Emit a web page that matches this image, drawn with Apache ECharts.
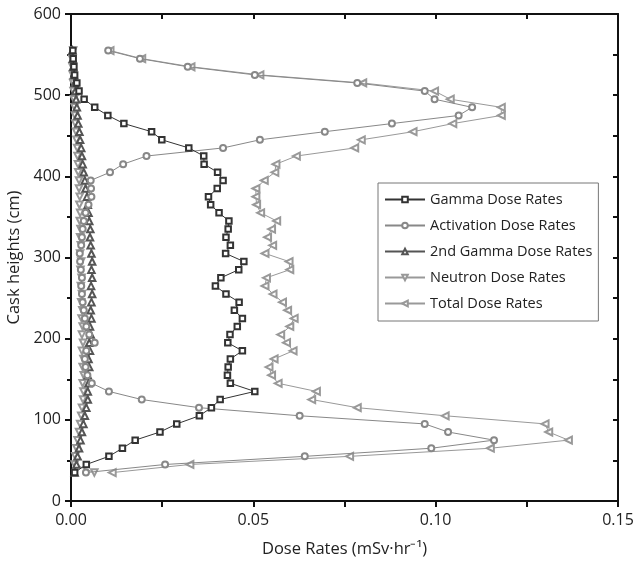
<html>
<head>
<meta charset="utf-8">
<script src="https://cdn.jsdelivr.net/npm/echarts@6/dist/echarts.min.js"></script>
<style>
	body { margin:0; background:#fff; }
	#main { width:633px; height:568px; }
</style>
</head>
<body>
<div id="main"></div>
<script>
	// cask heights, 35 .. 555 cm
	var heights = [35,45,55,65,75,85,95,105,115,125,135,145,155,165,175,185,195,205,215,225,235,245,255,265,275,285,295,305,315,325,335,345,355,365,375,385,395,405,415,425,435,445,455,465,475,485,495,505,515,525,535,545,555];

	var gamma = [0.001,0.0042,0.0104,0.0141,0.0176,0.0244,0.029,0.0352,0.0385,0.0409,0.0504,0.0437,0.0429,0.0431,0.0437,0.047,0.043,0.0436,0.0456,0.047,0.0448,0.0461,0.0425,0.0396,0.0411,0.046,0.0474,0.0424,0.0437,0.0425,0.0431,0.0433,0.0406,0.0383,0.0377,0.0401,0.0417,0.0402,0.0365,0.0364,0.0323,0.0249,0.0221,0.0145,0.0101,0.0065,0.0036,0.0022,0.0016,0.001,0.0008,0.0006,0.0005];

	var activation = [0.0041,0.0258,0.0641,0.0988,0.116,0.1034,0.097,0.0627,0.0351,0.0194,0.0104,0.0057,0.0045,0.004,0.0038,0.0042,0.0065,0.005,0.0042,0.0038,0.0035,0.0032,0.003,0.0028,0.003,0.0027,0.0025,0.0024,0.0028,0.003,0.0032,0.0035,0.004,0.0048,0.0056,0.0055,0.0054,0.0107,0.0143,0.0207,0.0417,0.0518,0.0696,0.088,0.1063,0.11,0.0997,0.097,0.0785,0.0504,0.032,0.0189,0.0102];

	var gamma2 = [0.001,0.0015,0.0018,0.0022,0.0026,0.003,0.0034,0.0038,0.0042,0.0046,0.0046,0.0048,0.0046,0.005,0.0048,0.0052,0.005,0.0054,0.0052,0.0056,0.0054,0.0056,0.0058,0.0055,0.0058,0.0056,0.0058,0.0056,0.0054,0.0052,0.0053,0.005,0.0048,0.0046,0.0044,0.004,0.0038,0.0035,0.0032,0.003,0.0028,0.0025,0.0023,0.002,0.0018,0.0016,0.0014,0.0012,0.001,0.0008,0.0006,0.0005,0.0004];

	var neutron = [0.0064,0.001,0.0012,0.0015,0.0018,0.0022,0.0025,0.0028,0.003,0.0033,0.0034,0.0032,0.0035,0.0032,0.0034,0.003,0.0033,0.003,0.0032,0.0029,0.0031,0.0028,0.003,0.0027,0.0029,0.0026,0.0028,0.0025,0.0027,0.0025,0.0026,0.0024,0.0025,0.0023,0.0024,0.0022,0.0022,0.002,0.0019,0.0018,0.0017,0.0015,0.0014,0.0012,0.0011,0.001,0.0008,0.0007,0.0006,0.0005,0.0004,0.0003,0.0006];

	var total = [0.0113,0.0326,0.0764,0.115,0.1364,0.131,0.13,0.1026,0.0785,0.066,0.0673,0.0568,0.055,0.0543,0.0557,0.0609,0.0591,0.0575,0.06,0.0612,0.0594,0.058,0.0554,0.0532,0.0536,0.06,0.0598,0.0532,0.0553,0.0539,0.055,0.0564,0.052,0.0509,0.0507,0.0507,0.053,0.0559,0.0562,0.0618,0.0778,0.0796,0.0938,0.1047,0.118,0.118,0.104,0.0997,0.08,0.0518,0.0329,0.0194,0.0107];

	var names = ['Gamma Dose Rates','Activation Dose Rates','2nd Gamma Dose Rates','Neutron Dose Rates','Total Dose Rates'];

	function pairs(xs) {
		var out = [];
		for (var i = 0; i < xs.length; i++) {
			out.push([xs[i], heights[i]]);
		}
		return out;
	}

	function mk(name, vals, symbol, size, rot, color, z) {
		return {
			name: name,
			type: 'line',
			data: pairs(vals),
			symbol: symbol,
			symbolSize: size,
			symbolRotate: rot,
			z: z,
			lineStyle: { color: color, width: 1 },
			itemStyle: { color: color, borderColor: color, borderWidth: 1 },
			emphasis: { disabled: true },
			animation: false
		};
	}

	// frame axes: bottom/left carry labels, top/right only inner ticks
	function frameLine() {
		return { show: true, onZero: false, lineStyle: { color: '#111', width: 2 } };
	}

	var font = 'Open Sans';
	var myChart = echarts.init(document.getElementById('main'));
	var option = {
		backgroundColor: '#fff',
		animation: false,
		grid: { left: 71, right: 15, top: 14, bottom: 67, outerBoundsMode: 'none' },
		legend: {
			orient: 'vertical',
			left: 378,
			top: 183,
			padding: [9, 6, 10, 6],
			itemGap: 11,
			itemWidth: 40,
			itemHeight: 7,
			borderColor: '#777',
			borderWidth: 1,
			textStyle: { fontFamily: font, fontSize: 14.5, color: '#222' },
			data: names
		},
		xAxis: [{
			type: 'value',
			min: 0, max: 0.15, interval: 0.05,
			name: 'Dose Rates (mSv·hr⁻¹)',
			nameLocation: 'middle',
			nameGap: 40,
			nameTextStyle: { fontFamily: font, fontSize: 16.5, color: '#222' },
			axisLine: frameLine(),
			axisTick: { show: true, length: 6, lineStyle: { color: '#111', width: 2 } },
			minorTick: { show: true, splitNumber: 2, length: 6, lineStyle: { color: '#111', width: 2 } },
			splitLine: { show: false },
			axisLabel: { fontFamily: font, fontSize: 16, color: '#222', margin: 11, formatter: function (v) { return v.toFixed(2); } }
		}, {
			type: 'value', position: 'top',
			min: 0, max: 0.15, interval: 0.025,
			axisLine: frameLine(),
			axisTick: { show: true, inside: true, length: 5, lineStyle: { color: '#111', width: 2 } },
			splitLine: { show: false },
			axisLabel: { show: false }
		}],
		yAxis: [{
			type: 'value',
			min: 0, max: 600, interval: 100,
			name: 'Cask heights (cm)',
			nameLocation: 'middle',
			nameGap: 45,
			nameTextStyle: { fontFamily: font, fontSize: 16.5, color: '#222' },
			axisLine: frameLine(),
			axisTick: { show: true, length: 6, lineStyle: { color: '#111', width: 2 } },
			minorTick: { show: true, splitNumber: 2, length: 4, lineStyle: { color: '#111', width: 2 } },
			splitLine: { show: false },
			axisLabel: { fontFamily: font, fontSize: 16, color: '#222', margin: 10 }
		}, {
			type: 'value', position: 'right',
			min: 0, max: 600, interval: 50,
			axisLine: frameLine(),
			axisTick: { show: true, inside: true, length: 5, lineStyle: { color: '#111', width: 2 } },
			splitLine: { show: false },
			axisLabel: { show: false }
		}],
		series: [
			mk(names[0], gamma, 'emptyRect', 5.5, 0, '#333', 5),
			mk(names[1], activation, 'emptyCircle', 6, 0, '#888', 4),
			mk(names[2], gamma2, 'emptyTriangle', 6.5, 0, '#555', 3),
			mk(names[3], neutron, 'emptyTriangle', 6.5, 180, '#999', 2),
			mk(names[4], total, 'emptyTriangle', 7, 90, '#999', 1)
		]
	};
	myChart.setOption(option);
</script>
</body>
</html>
